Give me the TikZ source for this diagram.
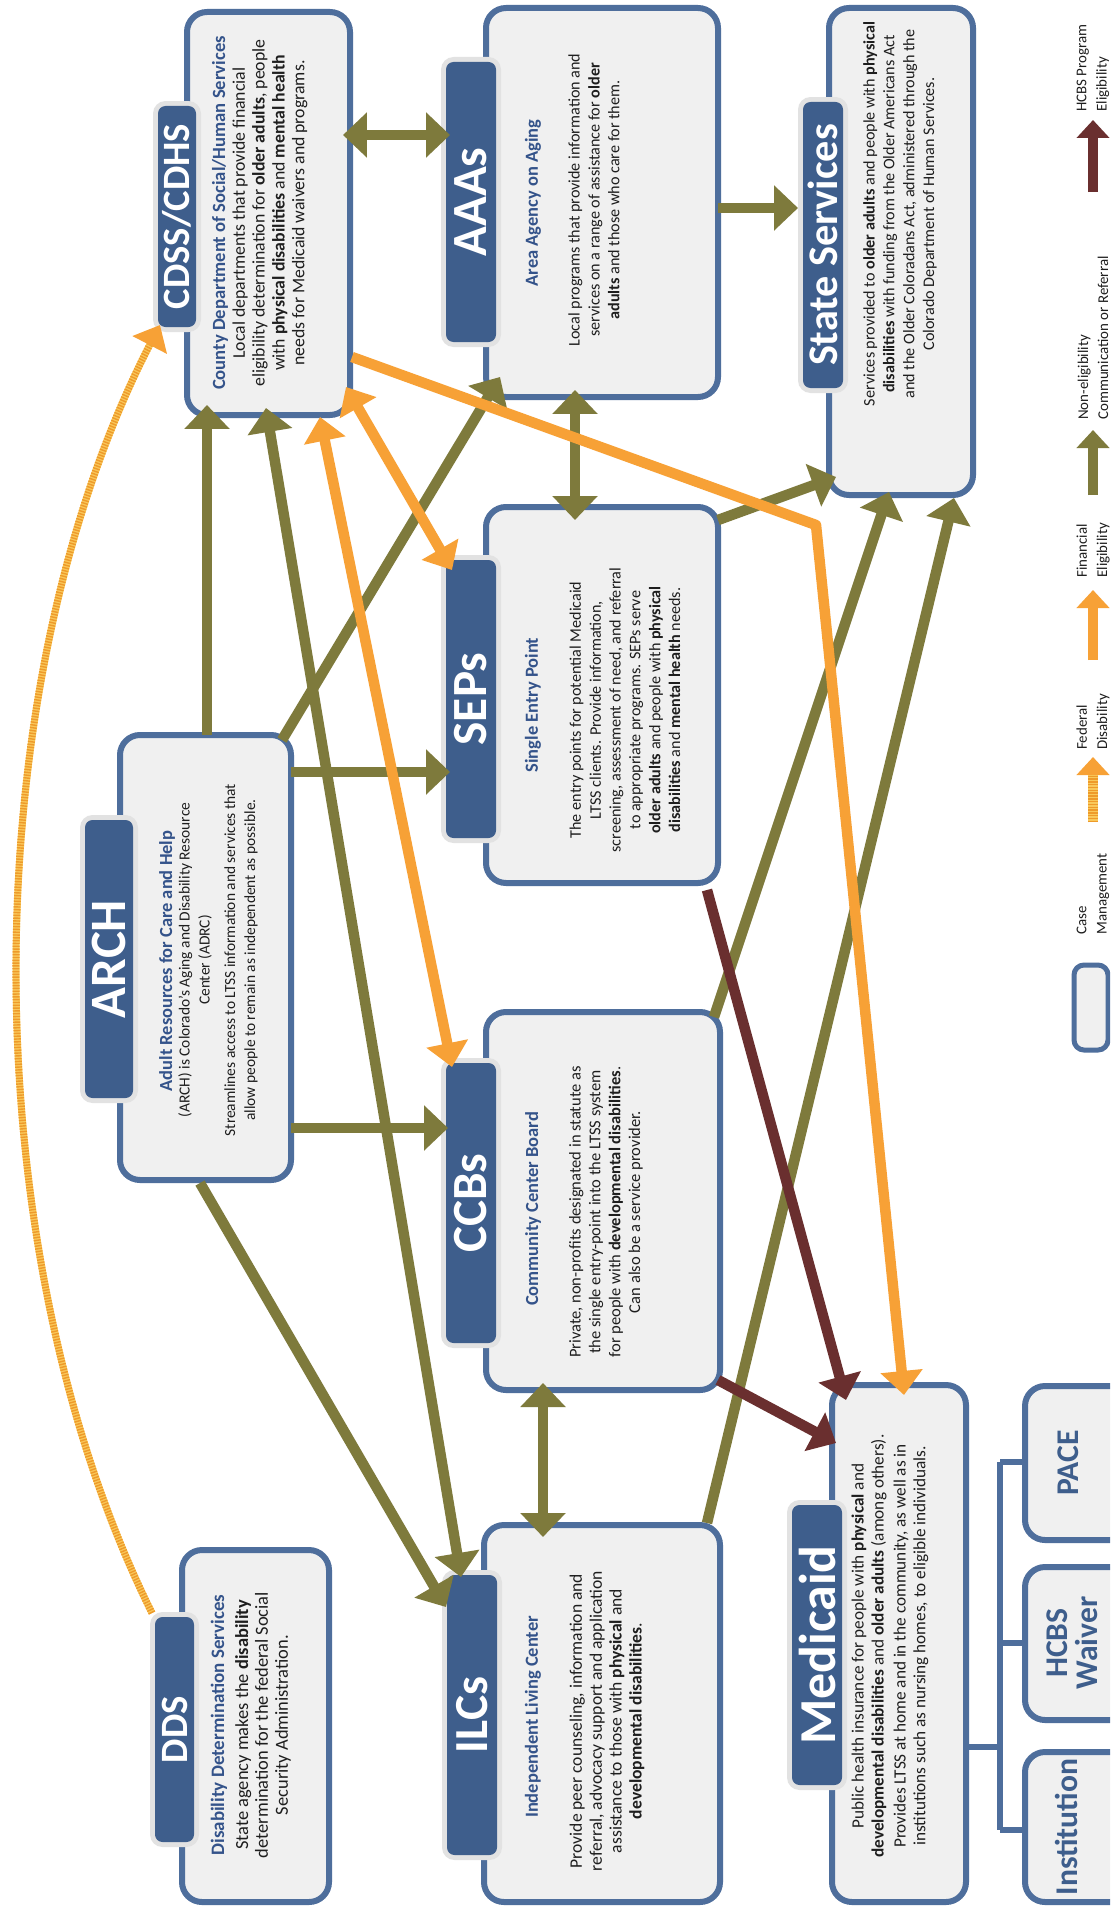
\documentclass[tikz,border=0pt]{standalone}
\usepackage{fontspec}
\setmainfont{Carlito}
\usetikzlibrary{arrows.meta,fit}
\definecolor{bxblue}{HTML}{4E6E9C}
\definecolor{bxfill}{HTML}{F0F0F0}
\definecolor{tabblue}{HTML}{3E5E8C}
\definecolor{halogray}{HTML}{E2E2E2}
\definecolor{subblue}{HTML}{34538A}
\definecolor{olv}{HTML}{7E7A3C}
\definecolor{orng}{HTML}{F7A136}
\definecolor{brwn}{HTML}{6A2F2F}
\definecolor{hatchA}{HTML}{F9C85A}
\definecolor{hatchB}{HTML}{EE9A2A}
\definecolor{txtc}{HTML}{1E1E1E}
\tikzset{
  box/.style={draw=bxblue, fill=bxfill, line width=0.12cm, rounded corners=0.4cm, inner sep=0pt},
  halo/.style={fill=halogray, draw=none, rounded corners=0.25cm, inner sep=0.1cm},
  tabbx/.style={fill=tabblue, draw=none, rounded corners=0.15cm, inner sep=0pt},
  ttl/.style={rotate=90, text=white, inner sep=0pt, font=\bfseries\fontsize{#1}{#1}\selectfont},
  subt/.style={rotate=90, text=subblue, inner sep=0pt, align=center, font=\bfseries\fontsize{#1}{12}\selectfont},
  subt/.default=10.5,
  bodyt/.style={rotate=90, text=txtc, inner sep=0pt, align=center, font=\fontsize{#1}{11.3}\selectfont},
  bodyt/.default=9,
  smallt/.style={rotate=90, text=tabblue, inner sep=0pt, align=center, font=\bfseries\fontsize{18}{17}\selectfont},
  lgt/.style={rotate=90, text=txtc, inner sep=0pt, align=left, font=\fontsize{8.5}{11.5}\selectfont},
  oa/.style={draw=olv, line width=0.21cm, -{Triangle[length=0.48cm,width=0.88cm]}},
  oab/.style={draw=olv, line width=0.21cm, {Triangle[length=0.48cm,width=0.88cm]}-{Triangle[length=0.48cm,width=0.88cm]}},
  ora/.style={draw=orng, line width=0.21cm, line join=round, -{Triangle[length=0.48cm,width=0.82cm]}},
  orab/.style={draw=orng, line width=0.21cm, {Triangle[length=0.48cm,width=0.82cm]}-{Triangle[length=0.48cm,width=0.82cm]}},
  bra/.style={draw=brwn, line width=0.21cm, -{Triangle[length=0.48cm,width=0.85cm]}},
  lga/.style={line width=0.2cm, -{Triangle[length=0.36cm,width=0.64cm]}},
  bracket/.style={draw=bxblue, line width=0.12cm},
}
\begin{document}
\begin{tikzpicture}[x=0.02cm,y=-0.02cm]
\useasboundingbox (0,0) rectangle (1110,1913);
\clip (0,0) rectangle (1110,1913);
\fill[white] (0,0) rectangle (1110,1913);

% ---------- boxes ----------
\node[box, fit={(187,12) (350,415)}] (cdss) {};
\node[box, fit={(486,8) (718,397)}] (aaas) {};
\node[box, fit={(829,8) (973,495)}] (state) {};
\node[box, fit={(120,735) (291,1180)}] (arch) {};
\node[box, fit={(486,507) (718,883)}] (seps) {};
\node[box, fit={(486,1012) (720,1390)}] (ccbs) {};
\node[box, fit={(182,1550) (329,1902)}] (dds) {};
\node[box, fit={(484,1525) (720,1902)}] (ilcs) {};
\node[box, fit={(832,1385) (966,1902)}] (medicaid) {};
\node[box, fit={(1025,1386) (1130,1540)}] (pace) {};
\node[box, fit={(1025,1567) (1130,1720)}] (hcbs) {};
\node[box, fit={(1025,1752) (1130,1902)}] (inst) {};

% ---------- tabs ----------
\node[halo, fit={(158,106) (196,327)}] (cdssH) {};
\node[tabbx, fit={(158,106) (196,327)}] (cdssT) {};
\node[ttl=22] (cdssL) at (cdssT.center) {CDSS/CDHS};

\node[halo, fit={(446,62) (496,342)}] (aaasH) {};
\node[tabbx, fit={(446,62) (496,342)}] (aaasT) {};
\node[ttl=28] (aaasL) at (aaasT.center) {AAAs};

\node[halo, fit={(803,102) (843,388)}] (stateH) {};
\node[tabbx, fit={(803,102) (843,388)}] (stateT) {};
\node[ttl=24] (stateL) at (stateT.center) {State Services};

\node[halo, fit={(85,820) (133,1098)}] (archH) {};
\node[tabbx, fit={(85,820) (133,1098)}] (archT) {};
\node[ttl=29] (archL) at (archT.center) {ARCH};

\node[halo, fit={(446,560) (496,838)}] (sepsH) {};
\node[tabbx, fit={(446,560) (496,838)}] (sepsT) {};
\node[ttl=28] (sepsL) at (sepsT.center) {SEPs};

\node[halo, fit={(446,1063) (496,1343)}] (ccbsH) {};
\node[tabbx, fit={(446,1063) (496,1343)}] (ccbsT) {};
\node[ttl=28] (ccbsL) at (ccbsT.center) {CCBs};

\node[halo, fit={(155,1617) (194,1842)}] (ddsH) {};
\node[tabbx, fit={(155,1617) (194,1842)}] (ddsT) {};
\node[ttl=22] (ddsL) at (ddsT.center) {DDS};

\node[halo, fit={(447,1575) (497,1855)}] (ilcsH) {};
\node[tabbx, fit={(447,1575) (497,1855)}] (ilcsT) {};
\node[ttl=27] (ilcsL) at (ilcsT.center) {ILCs};

\node[halo, fit={(792,1505) (842,1785)}] (medH) {};
\node[tabbx, fit={(792,1505) (842,1785)}] (medT) {};
\node[ttl=29.5] (medL) at (medT.center) {Medicaid};

% ---------- texts ----------
\node[subt=10.6] (cdssS) at (220,213) {County Department of Social/Human Services};
\node[bodyt=10.1] (cdssB) at (270,213) {Local departments that provide financial\\eligibility determination for \textbf{older adults}, people\\with \textbf{physical disabilities} and \textbf{mental health}\\needs for Medicaid waivers and programs.};

\node[subt] (aaasS) at (533,203) {Area Agency on Aging};
\node[bodyt=9.2] (aaasB) at (594,200) {Local programs that provide information and\\services on a range of assistance for \textbf{older}\\\textbf{adults} and those who care for them.};

\node[bodyt=9.2] (stateB) at (900,214) {Services provided to \textbf{older adults} and people with \textbf{physical}\\\textbf{disabilities} with funding from the Older Americans Act\\and the Older Coloradans Act, administered through the\\Colorado Department of Human Services.};

\node[subt] (archS) at (167,961) {Adult Resources for Care and Help};
\node[bodyt=8.8] (archB1) at (195,960) {(ARCH) is Colorado's Aging and Disability Resource\\Center (ADRC)};
\node[bodyt=8.8] (archB2) at (241,960) {Streamlines access to LTSS information and services that\\allow people to remain as independent as possible.};

\node[subt] (sepsS) at (533,705) {Single Entry Point};
\node[bodyt=9.2] (sepsB) at (625,710) {The entry points for potential Medicaid\\LTSS clients. Provide information,\\screening, assessment of need, and referral\\to appropriate programs. SEPs serve\\\textbf{older adults} and people with \textbf{physical}\\\textbf{disabilities} and \textbf{mental health} needs.};

\node[subt] (ccbsS) at (533,1209) {Community Center Board};
\node[bodyt=9.4] (ccbsB) at (606,1212) {Private, non-profits designated in statute as\\the single entry-point into the LTSS system\\for people with \textbf{developmental disabilities}.\\Can also be a service provider.};

\node[subt=10.8] (ddsS) at (219,1725) {Disability Determination Services};
\node[bodyt=10.5] (ddsB) at (263,1725) {State agency makes the \textbf{disability}\\determination for the federal Social\\Security Administration.};

\node[subt] (ilcsS) at (533,1717) {Independent Living Center};
\node[bodyt=10] (ilcsB) at (607,1721) {Provide peer counseling, information and\\referral, advocacy support and application\\assistance to those with \textbf{physical} and\\\textbf{developmental disabilities}.};

\node[bodyt=9.8] (medB1) at (869,1646) {Public health insurance for people with \textbf{physical} and\\\textbf{developmental disabilities} and \textbf{older adults} (among others).};
\node[bodyt=9.8] (medB2) at (911,1646) {Provides LTSS at home and in the community, as well as in\\institutions such as nursing homes, to eligible individuals.};

\node[smallt] (paceL) at (1068,1463) {PACE};
\node[smallt] (hcbsL) at (1072,1643) {HCBS\\Waiver};
\node[smallt] (instL) at (1066,1827) {Institution};

% ---------- Medicaid bracket ----------
\coordinate (bk0) at (966,1747);
\coordinate (bk1) at (1000,1747);
\coordinate (bkP) at (1000,1462);
\coordinate (bkH) at (1000,1643);
\coordinate (bkI) at (1000,1830);
\draw[bracket] (bk0) -- (bk1);
\draw[bracket] (bkP) -- (bkI);
\draw[bracket] (bkP) -- (pace.west |- bkP);
\draw[bracket] (bkH) -- (hcbs.west |- bkH);
\draw[bracket] (bkI) -- (inst.west |- bkI);

% ---------- connector end points ----------
\coordinate (a1s) at (343,135); \coordinate (a1e) at (450,135);
\coordinate (a2s) at (718,208); \coordinate (a2e) at (798,208);
\coordinate (a3s) at (207,735); \coordinate (a3e) at (207,405);
\coordinate (a4s) at (266,408); \coordinate (a4e) at (461,1577);
\coordinate (a5s) at (200,1183); \coordinate (a5e) at (446,1607);
\coordinate (a6s) at (291,772); \coordinate (a6e) at (450,772);
\coordinate (a7s) at (291,1128); \coordinate (a7e) at (448,1128);
\coordinate (a8s) at (282,740); \coordinate (a8e) at (500,377);
\coordinate (a9s) at (575,390); \coordinate (a9e) at (575,520);
\coordinate (a10s) at (718,520); \coordinate (a10e) at (836,477);
\coordinate (a11s) at (714,1017); \coordinate (a11e) at (889,492);
\coordinate (a12s) at (707,1523); \coordinate (a12e) at (954,498);
\coordinate (a13s) at (543,1383); \coordinate (a13e) at (543,1537);
\coordinate (b1s) at (707,890); \coordinate (b1e) at (846,1400);
\coordinate (b2s) at (718,1380); \coordinate (b2e) at (836,1443);
\coordinate (o1s) at (352,357); \coordinate (o1m) at (816,525); \coordinate (o1e) at (904,1395);
\coordinate (o2s) at (346,387); \coordinate (o2e) at (452,570);
\coordinate (o3s) at (320,417); \coordinate (o3e) at (452,1067);
\coordinate (f1s) at (152,1613); \coordinate (f1e) at (160,325);

% ---------- connectors ----------
\draw[oab] (a1s) -- (a1e);
\draw[oa] (a2s) -- (a2e);
\draw[oa] (a3s) -- (a3e);
\draw[oab] (a4s) -- (a4e);
\draw[oa] (a5s) -- (a5e);
\draw[oa] (a6s) -- (a6e);
\draw[oa] (a7s) -- (a7e);
\draw[oa] (a8s) -- (a8e);
\draw[oab] (a9s) -- (a9e);
\draw[oa] (a10s) -- (a10e);
\draw[oa] (a11s) -- (a11e);
\draw[oa] (a12s) -- (a12e);
\draw[oab] (a13s) -- (a13e);
\draw[ora] (o1s) -- (o1m) -- (o1e);
\draw[orab] (o2s) -- (o2e);
\draw[orab] (o3s) -- (o3e);
\draw[bra] (b1s) -- (b1e);
\draw[bra] (b2s) -- (b2e);
\draw[draw=hatchA, line width=0.14cm, -{Triangle[length=0.45cm,width=0.75cm,color=orng]}] (f1s) .. controls (-29,1250) and (-29,691) .. (f1e);
\draw[draw=hatchB, line width=0.14cm, dash pattern=on 0.8pt off 0.8pt, shorten >=0.45cm] (f1s) .. controls (-29,1250) and (-29,691) .. (f1e);

% ---------- legend ----------
\coordinate (lg1a) at (1093,192); \coordinate (lg1b) at (1093,120);
\coordinate (lg2a) at (1093,495); \coordinate (lg2b) at (1093,430);
\coordinate (lg3a) at (1093,660); \coordinate (lg3b) at (1093,590);
\coordinate (lg4a) at (1093,822); \coordinate (lg4b) at (1093,757);
\draw[lga, draw=brwn] (lg1a) -- (lg1b);
\draw[lga, draw=olv] (lg2a) -- (lg2b);
\draw[lga, draw=orng] (lg3a) -- (lg3b);
\draw[lga, draw=hatchA, -{Triangle[length=0.36cm,width=0.64cm,color=orng]}] (lg4a) -- (lg4b);
\draw[draw=hatchB, line width=0.2cm, dash pattern=on 0.8pt off 0.8pt, shorten >=0.36cm] (lg4a) -- (lg4b);
\node[box, line width=0.1cm, rounded corners=0.2cm, fit={(1074,965) (1108,1050)}] (lgbox) {};
\node[lgt, anchor=west] (lg1t) at (1093,112) {HCBS Program\\Eligibility};
\node[lgt, anchor=west] (lg2t) at (1093,420) {Non-eligibility\\Communication or Referral};
\node[lgt, anchor=west] (lg3t) at (1093,578) {Financial\\Eligibility};
\node[lgt, anchor=west] (lg4t) at (1093,750) {Federal\\Disability};
\node[lgt, anchor=west] (lg5t) at (1093,935) {Case\\Management};
\end{tikzpicture}
\end{document}
